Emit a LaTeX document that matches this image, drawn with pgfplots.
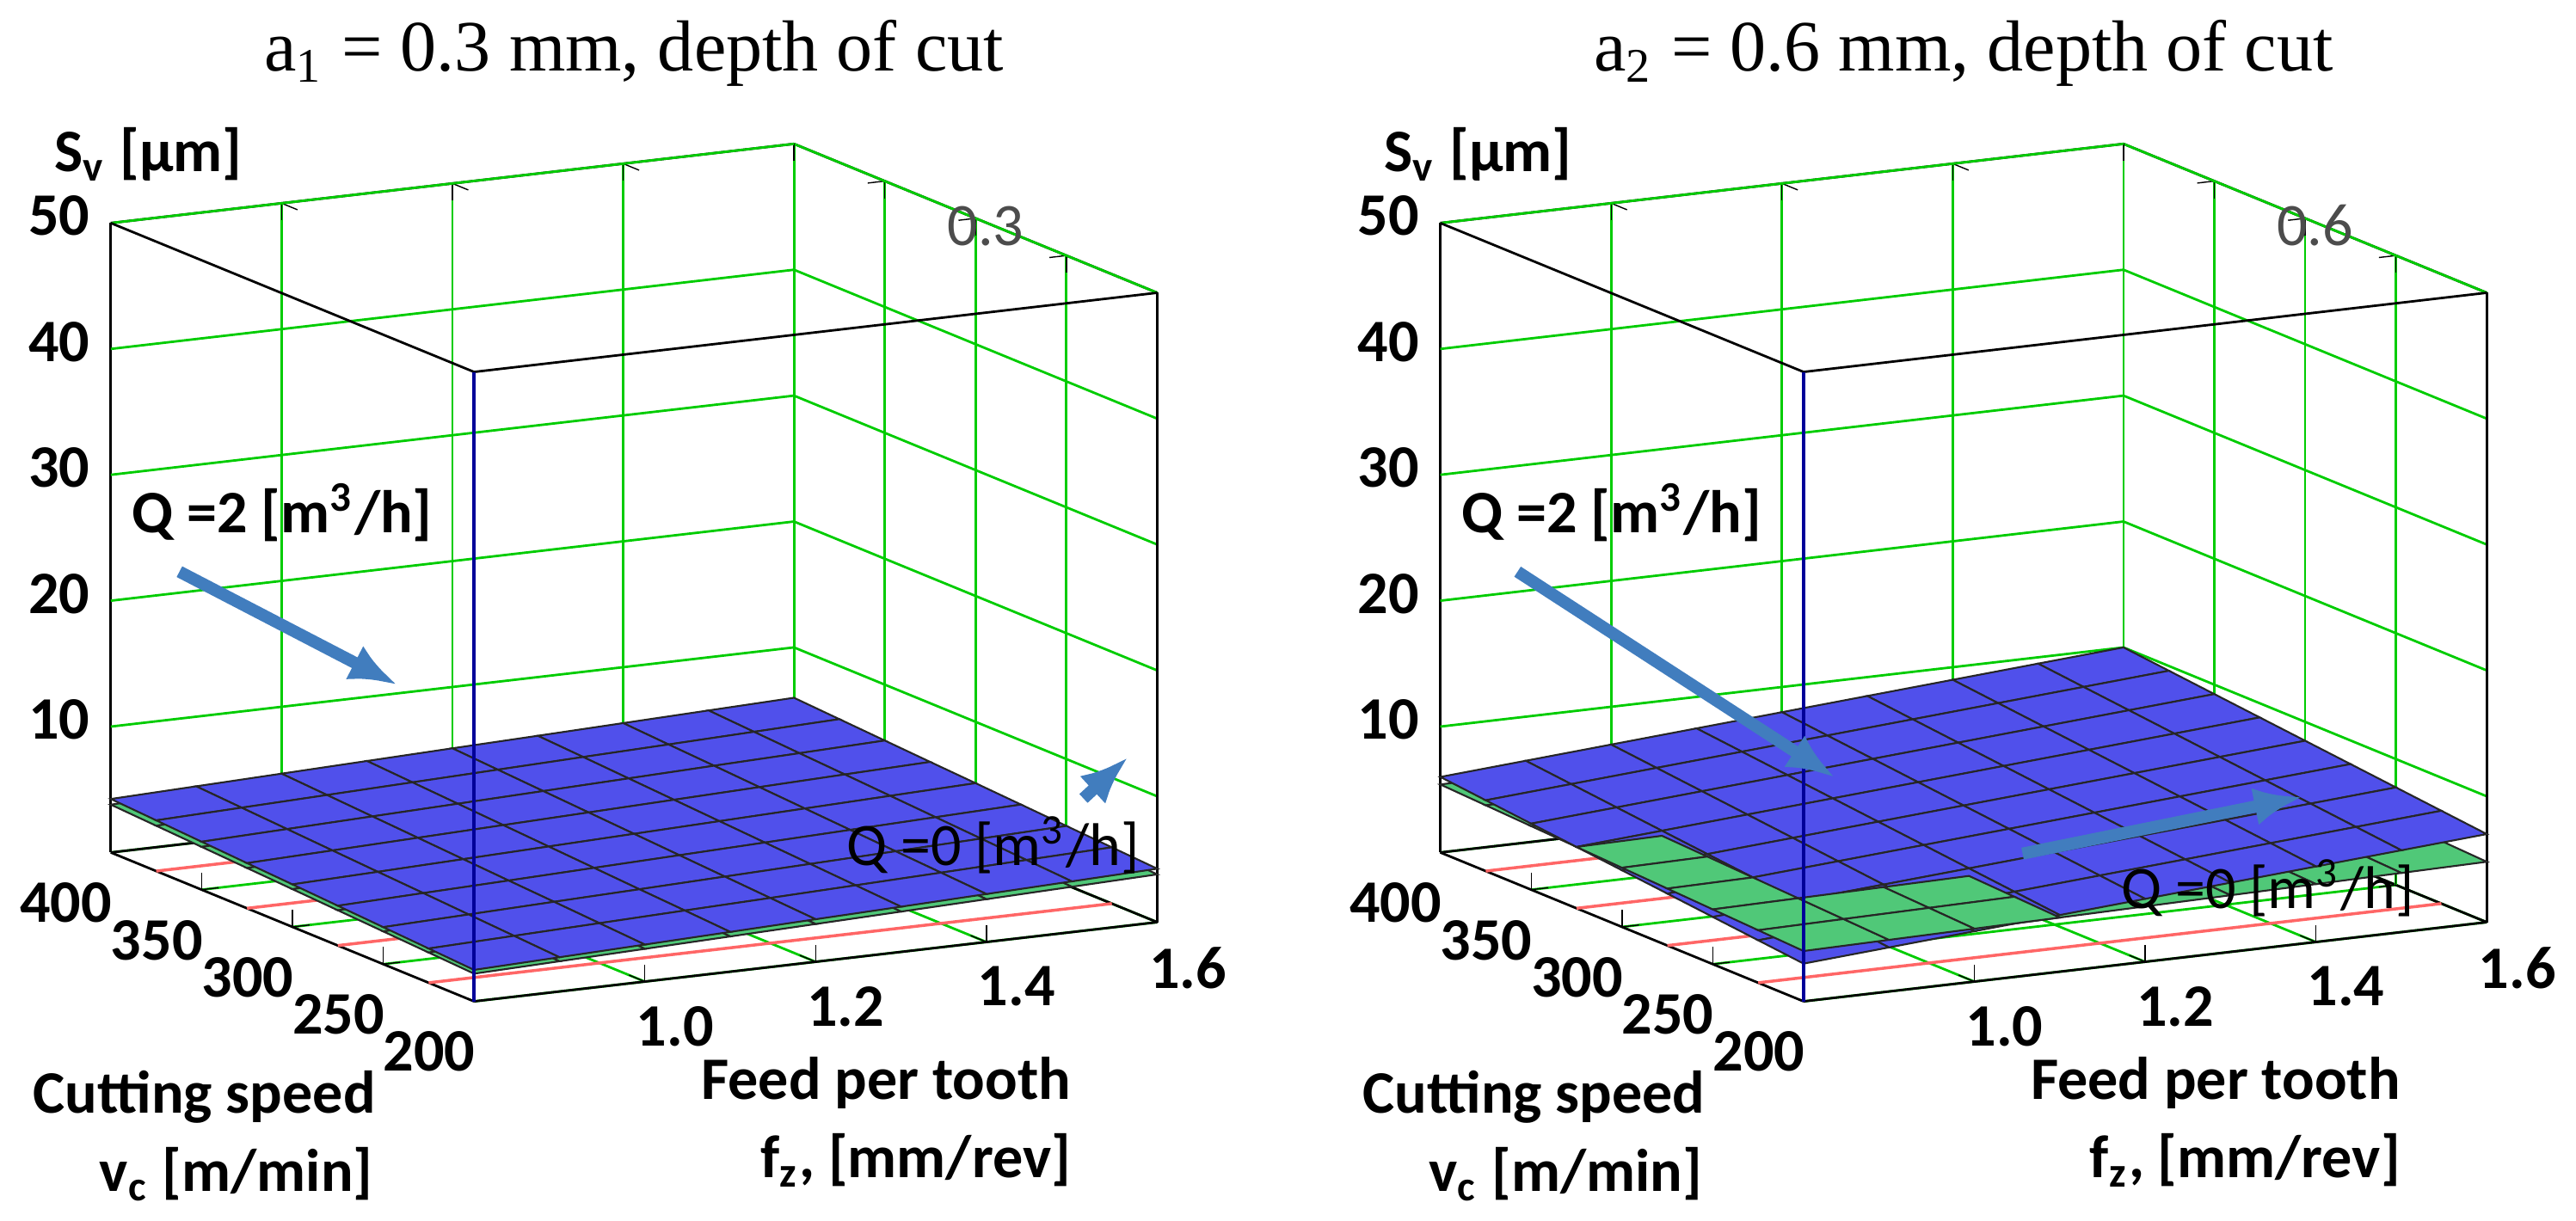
\documentclass[border=0pt]{standalone}
\usepackage{pgfplots}
\pgfplotsset{compat=1.18}
\usetikzlibrary{arrows.meta}
\usepackage{fontspec}
\setmainfont{Liberation Serif}
\newfontfamily\lab{Carlito}
\definecolor{sblue}{RGB}{80,80,235}
\definecolor{sgreen}{RGB}{80,200,120}
\definecolor{arr}{RGB}{65,125,190}
\tikzset{redfloor/.style={red!60, line width=0.5pt},
 lbl/.style={font=\lab\normalsize\bfseries},
 ar/.style={arr, line width=2pt, -{Latex[length=0.28cm,width=0.22cm]}}}
\pgfplotstableread{
x y z
0.8 200 2.50
0.9 200 2.72
1.0 200 2.94
1.1 200 3.16
1.2 200 3.38
1.3 200 3.59
1.4 200 3.81
1.5 200 4.03
1.6 200 4.25

0.8 225 2.72
0.9 225 2.94
1.0 225 3.16
1.1 225 3.38
1.2 225 3.59
1.3 225 3.81
1.4 225 4.03
1.5 225 4.25
1.6 225 4.47

0.8 250 2.94
0.9 250 3.16
1.0 250 3.38
1.1 250 3.59
1.2 250 3.81
1.3 250 4.03
1.4 250 4.25
1.5 250 4.47
1.6 250 4.69

0.8 275 3.16
0.9 275 3.38
1.0 275 3.59
1.1 275 3.81
1.2 275 4.03
1.3 275 4.25
1.4 275 4.47
1.5 275 4.69
1.6 275 4.91

0.8 300 3.38
0.9 300 3.59
1.0 300 3.81
1.1 300 4.03
1.2 300 4.25
1.3 300 4.47
1.4 300 4.69
1.5 300 4.91
1.6 300 5.13

0.8 325 3.59
0.9 325 3.81
1.0 325 4.03
1.1 325 4.25
1.2 325 4.47
1.3 325 4.69
1.4 325 4.91
1.5 325 5.13
1.6 325 5.34

0.8 350 3.81
0.9 350 4.03
1.0 350 4.25
1.1 350 4.47
1.2 350 4.69
1.3 350 4.91
1.4 350 5.13
1.5 350 5.34
1.6 350 5.56

0.8 375 4.03
0.9 375 4.25
1.0 375 4.47
1.1 375 4.69
1.2 375 4.91
1.3 375 5.13
1.4 375 5.34
1.5 375 5.56
1.6 375 5.78

0.8 400 4.25
0.9 400 4.47
1.0 400 4.69
1.1 400 4.91
1.2 400 5.13
1.3 400 5.34
1.4 400 5.56
1.5 400 5.78
1.6 400 6.00
}\LQtwo
\pgfplotstableread{
x y z
0.8 200 2.2
0.9 200 2.4
1.0 200 2.6
1.1 200 2.8
1.2 200 3.0
1.3 200 3.2
1.4 200 3.4
1.5 200 3.6
1.6 200 3.8

0.8 225 2.4
0.9 225 2.6
1.0 225 2.8
1.1 225 3.0
1.2 225 3.2
1.3 225 3.4
1.4 225 3.6
1.5 225 3.8
1.6 225 4.0

0.8 250 2.6
0.9 250 2.8
1.0 250 3.0
1.1 250 3.2
1.2 250 3.4
1.3 250 3.6
1.4 250 3.8
1.5 250 4.0
1.6 250 4.2

0.8 275 2.8
0.9 275 3.0
1.0 275 3.2
1.1 275 3.4
1.2 275 3.6
1.3 275 3.8
1.4 275 4.0
1.5 275 4.2
1.6 275 4.4

0.8 300 3.0
0.9 300 3.2
1.0 300 3.4
1.1 300 3.6
1.2 300 3.8
1.3 300 4.0
1.4 300 4.2
1.5 300 4.4
1.6 300 4.6

0.8 325 3.2
0.9 325 3.4
1.0 325 3.6
1.1 325 3.8
1.2 325 4.0
1.3 325 4.2
1.4 325 4.4
1.5 325 4.6
1.6 325 4.8

0.8 350 3.4
0.9 350 3.6
1.0 350 3.8
1.1 350 4.0
1.2 350 4.2
1.3 350 4.4
1.4 350 4.6
1.5 350 4.8
1.6 350 5.0

0.8 375 3.6
0.9 375 3.8
1.0 375 4.0
1.1 375 4.2
1.2 375 4.4
1.3 375 4.6
1.4 375 4.8
1.5 375 5.0
1.6 375 5.2

0.8 400 3.8
0.9 400 4.0
1.0 400 4.2
1.1 400 4.4
1.2 400 4.6
1.3 400 4.8
1.4 400 5.0
1.5 400 5.2
1.6 400 5.4
}\LQzero
\pgfplotstableread{
x y z
0.8 200 3.000
0.9 200 3.500
1.0 200 4.000
1.1 200 4.500
1.2 200 5.000
1.3 200 5.500
1.4 200 6.000
1.5 200 6.500
1.6 200 7.000

0.8 225 3.375
0.9 225 3.875
1.0 225 4.375
1.1 225 4.875
1.2 225 5.375
1.3 225 5.875
1.4 225 6.375
1.5 225 6.875
1.6 225 7.375

0.8 250 3.750
0.9 250 4.250
1.0 250 4.750
1.1 250 5.250
1.2 250 5.750
1.3 250 6.250
1.4 250 6.750
1.5 250 7.250
1.6 250 7.750

0.8 275 4.125
0.9 275 4.625
1.0 275 5.125
1.1 275 5.625
1.2 275 6.125
1.3 275 6.625
1.4 275 7.125
1.5 275 7.625
1.6 275 8.125

0.8 300 4.500
0.9 300 5.000
1.0 300 5.500
1.1 300 6.000
1.2 300 6.500
1.3 300 7.000
1.4 300 7.500
1.5 300 8.000
1.6 300 8.500

0.8 325 4.875
0.9 325 5.375
1.0 325 5.875
1.1 325 6.375
1.2 325 6.875
1.3 325 7.375
1.4 325 7.875
1.5 325 8.375
1.6 325 8.875

0.8 350 5.250
0.9 350 5.750
1.0 350 6.250
1.1 350 6.750
1.2 350 7.250
1.3 350 7.750
1.4 350 8.250
1.5 350 8.750
1.6 350 9.250

0.8 375 5.625
0.9 375 6.125
1.0 375 6.625
1.1 375 7.125
1.2 375 7.625
1.3 375 8.125
1.4 375 8.625
1.5 375 9.125
1.6 375 9.625

0.8 400 6.000
0.9 400 6.500
1.0 400 7.000
1.1 400 7.500
1.2 400 8.000
1.3 400 8.500
1.4 400 9.000
1.5 400 9.500
1.6 400 10.000
}\RQtwo
\pgfplotstableread{
x y z
0.8 200 4.000
0.9 200 4.100
1.0 200 4.200
1.1 200 4.300
1.2 200 4.400
1.3 200 4.500
1.4 200 4.600
1.5 200 4.700
1.6 200 4.800

0.8 225 4.175
0.9 225 4.275
1.0 225 4.375
1.1 225 4.475
1.2 225 4.575
1.3 225 4.675
1.4 225 4.775
1.5 225 4.875
1.6 225 4.975

0.8 250 4.350
0.9 250 4.450
1.0 250 4.550
1.1 250 4.650
1.2 250 4.750
1.3 250 4.850
1.4 250 4.950
1.5 250 5.050
1.6 250 5.150

0.8 275 4.525
0.9 275 4.625
1.0 275 4.725
1.1 275 4.825
1.2 275 4.925
1.3 275 5.025
1.4 275 5.125
1.5 275 5.225
1.6 275 5.325

0.8 300 4.700
0.9 300 4.800
1.0 300 4.900
1.1 300 5.000
1.2 300 5.100
1.3 300 5.200
1.4 300 5.300
1.5 300 5.400
1.6 300 5.500

0.8 325 4.875
0.9 325 4.975
1.0 325 5.075
1.1 325 5.175
1.2 325 5.275
1.3 325 5.375
1.4 325 5.475
1.5 325 5.575
1.6 325 5.675

0.8 350 5.050
0.9 350 5.150
1.0 350 5.250
1.1 350 5.350
1.2 350 5.450
1.3 350 5.550
1.4 350 5.650
1.5 350 5.750
1.6 350 5.850

0.8 375 5.225
0.9 375 5.325
1.0 375 5.425
1.1 375 5.525
1.2 375 5.625
1.3 375 5.725
1.4 375 5.825
1.5 375 5.925
1.6 375 6.025

0.8 400 5.400
0.9 400 5.500
1.0 400 5.600
1.1 400 5.700
1.2 400 5.800
1.3 400 5.900
1.4 400 6.000
1.5 400 6.100
1.6 400 6.200
}\RQzero
\pgfplotstableread{
x y z
0.8 200 4.000
0.9 200 4.100

0.8 225 4.175
0.9 225 4.275

0.8 250 4.350
0.9 250 4.450

0.8 275 4.525
0.9 275 4.625

0.8 300 4.700
0.9 300 4.800

0.8 325 4.875
0.9 325 4.975
}\RQzeroTopA
\pgfplotstableread{
x y z
0.9 200 4.100
1.0 200 4.200
1.1 200 4.300

0.9 225 4.275
1.0 225 4.375
1.1 225 4.475

0.9 250 4.450
1.0 250 4.550
1.1 250 4.650
}\RQzeroTopB
\begin{document}
\begin{tikzpicture}
\pgfplotsset{
 myax/.style={
  view={-28}{15}, scale only axis, width=6.1cm, height=5.0cm,
  xmin=0.8, xmax=1.6, ymin=200, ymax=400, zmin=0, zmax=50,
  axis lines=box, grid=major, major grid style={green!80!black, line width=0.4pt},
  axis line style={black, line width=0.4pt},
  xtick={1.0,1.2,1.4,1.6}, ytick={200,250,300,350,400}, ztick={10,20,30,40,50},
  xticklabel style={/pgf/number format/.cd,fixed,fixed zerofill,precision=1},
  ticklabel style={font=\lab\normalsize\bfseries},
  /pgf/number format/assume math mode=true,
  tick style={black}, major tick length=0.1cm, ztick style={draw=none},
  title style={font=\large, yshift=0cm},
  clip=false,
 },
 surfq2/.style={surf, shader=faceted, colormap={b}{color=(sblue) color=(sblue)}, faceted color=black!85, line width=0.3pt},
 surfq0/.style={surf, shader=faceted, colormap={g}{color=(sgreen) color=(sgreen)}, faceted color=black!85, line width=0.3pt},
}
% ---------- left ----------
\begin{axis}[myax, title={a\textsubscript{1} = 0.3 mm, depth of cut}]
\draw[redfloor] (axis cs:0.8,225,0) -- (axis cs:1.6,225,0);
\draw[redfloor] (axis cs:0.8,275,0) -- (axis cs:1.6,275,0);
\draw[redfloor] (axis cs:0.8,325,0) -- (axis cs:1.6,325,0);
\draw[redfloor] (axis cs:0.8,375,0) -- (axis cs:1.6,375,0);
\addplot3[surfq0, mesh/rows=9] table {\LQzero};
\addplot3[surfq2, mesh/rows=9] table {\LQtwo};
\draw (rel axis cs:0,0,1) -- (rel axis cs:1,0,1);
\draw (rel axis cs:0,0,1) -- (rel axis cs:0,1,1);
\draw[blue!60!black, line width=0.6pt] (rel axis cs:0,0,0) -- (rel axis cs:0,0,1);
\node[lbl, anchor=south west] at ([xshift=-0.45cm,yshift=0.12cm]rel axis cs:0,1,1) {S\textsubscript{v} [µm]};
\node[font=\lab\normalsize, text=black!70, anchor=south] at ([xshift=-1.0cm,yshift=0.15cm]rel axis cs:1,0,1) {0.3};
\node[lbl, anchor=north east, align=left] at ([xshift=-0.45cm,yshift=-0.28cm]rel axis cs:0,0,0) {Cutting speed\\[1pt]\hspace*{1.1em}v\textsubscript{c} [m/min]};
\node[lbl, anchor=north west, align=right] at ([xshift=1.2cm,yshift=-0.2cm]rel axis cs:0,0,0) {Feed per tooth\\[1pt]f\textsubscript{z}, [mm/rev]};
\node[lbl, anchor=west] (q2) at (axis cs:0.8,400,27) {Q =2 [m\textsuperscript{3}/h]};
\draw[ar] ([xshift=0.4cm,yshift=-0.05cm]q2.south west) -- ++(1.27cm,-0.66cm);
\node[font=\lab\normalsize, anchor=east] (q0) at ([xshift=0.02cm,yshift=0.45cm]rel axis cs:1,0,0) {Q =0 [m\textsuperscript{3}/h]};
\draw[ar] ([xshift=-0.45cm,yshift=-0.02cm]q0.north east) -- ++(0.26cm,0.24cm);
\end{axis}
% ---------- right ----------
\begin{axis}[myax, xshift=7.75cm, title={a\textsubscript{2} = 0.6 mm, depth of cut}]
\draw[redfloor] (axis cs:0.8,225,0) -- (axis cs:1.6,225,0);
\draw[redfloor] (axis cs:0.8,275,0) -- (axis cs:1.6,275,0);
\draw[redfloor] (axis cs:0.8,325,0) -- (axis cs:1.6,325,0);
\draw[redfloor] (axis cs:0.8,375,0) -- (axis cs:1.6,375,0);
\addplot3[surfq0, mesh/rows=9] table {\RQzero};
\addplot3[surfq2, mesh/rows=9] table {\RQtwo};
\addplot3[surfq0, mesh/rows=6] table {\RQzeroTopA};
\addplot3[surfq0, mesh/rows=3] table {\RQzeroTopB};
\draw (rel axis cs:0,0,1) -- (rel axis cs:1,0,1);
\draw (rel axis cs:0,0,1) -- (rel axis cs:0,1,1);
\draw[blue!60!black, line width=0.6pt] (rel axis cs:0,0,0) -- (rel axis cs:0,0,1);
\node[lbl, anchor=south west] at ([xshift=-0.45cm,yshift=0.12cm]rel axis cs:0,1,1) {S\textsubscript{v} [µm]};
\node[font=\lab\normalsize, text=black!70, anchor=south] at ([xshift=-1.0cm,yshift=0.15cm]rel axis cs:1,0,1) {0.6};
\node[lbl, anchor=north east, align=left] at ([xshift=-0.45cm,yshift=-0.28cm]rel axis cs:0,0,0) {Cutting speed\\[1pt]\hspace*{1.1em}v\textsubscript{c} [m/min]};
\node[lbl, anchor=north west, align=right] at ([xshift=1.2cm,yshift=-0.2cm]rel axis cs:0,0,0) {Feed per tooth\\[1pt]f\textsubscript{z}, [mm/rev]};
\node[lbl, anchor=west] (q2) at (axis cs:0.8,400,27) {Q =2 [m\textsuperscript{3}/h]};
\draw[ar] ([xshift=0.45cm,yshift=-0.05cm]q2.south west) -- ++(1.85cm,-1.2cm);
\node[font=\lab\normalsize, anchor=east] (q0) at ([xshift=-0.3cm,yshift=0.2cm]rel axis cs:1,0,0) {Q =0 [m\textsuperscript{3}/h]};
\draw[ar] ([xshift=-0.45cm,yshift=0.2cm]q0.west) -- ++(1.63cm,0.33cm);
\end{axis}
\end{tikzpicture}
\end{document}
